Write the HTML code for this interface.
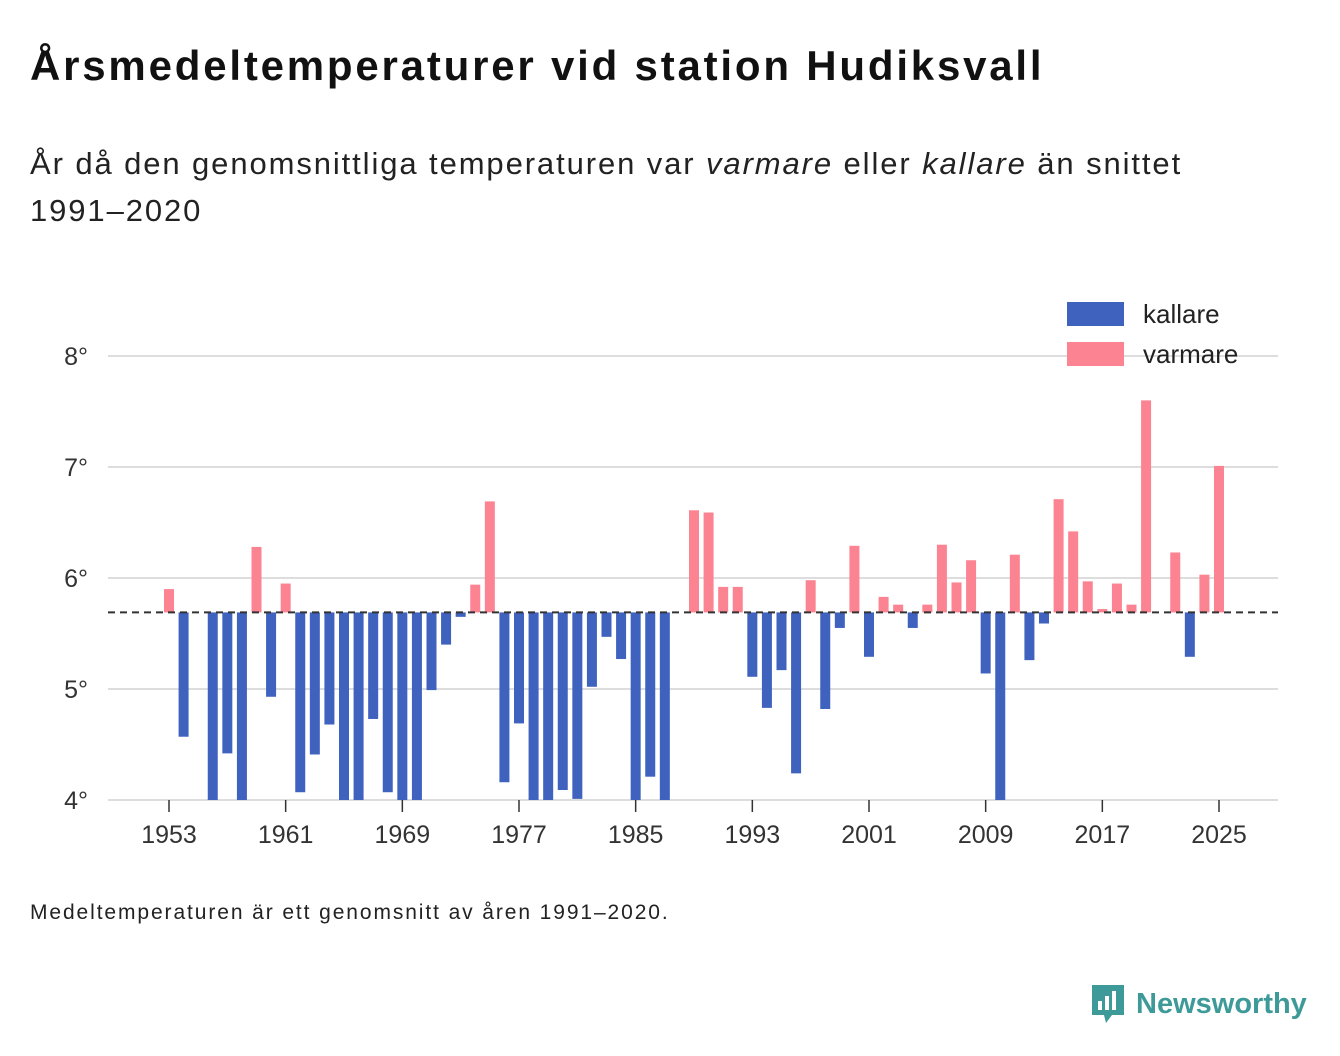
<!DOCTYPE html>
<html><head><meta charset="utf-8"><style>
body{margin:0;width:1340px;height:1056px;background:#fff;font-family:"Liberation Sans",sans-serif;color:#111;position:relative;overflow:hidden}
#title{position:absolute;left:30px;top:42px;font-size:42px;letter-spacing:2.8px;font-weight:bold;margin:0;white-space:nowrap}
#sub{position:absolute;left:30px;top:140px;font-size:31px;letter-spacing:1.9px;line-height:47px;color:#222;width:1200px}
#foot{position:absolute;left:30px;top:901px;font-size:21px;letter-spacing:1.9px;color:#222;white-space:nowrap}
#logo{position:absolute;left:1090px;top:983px;font-size:29px;font-weight:bold;color:#3d9a98;display:flex;align-items:center;gap:10px}
svg{position:absolute;left:0;top:0}
</style></head><body>
<h1 id="title">Årsmedeltemperaturer vid station Hudiksvall</h1>
<div id="sub">År då den genomsnittliga temperaturen var <i>varmare</i> eller <i>kallare</i> än snittet<br>1991–2020</div>
<svg id="chart" width="1340" height="1056"></svg>
<div id="foot">Medeltemperaturen är ett genomsnitt av åren 1991–2020.</div>
<div id="logo"><svg style="position:static" width="36" height="42" viewBox="0 0 36 42"><path d="M2 2h32v30H22l-6 8-2-8H2z" fill="#3d9a98"/><rect x="8" y="18" width="4" height="9" fill="#fff"/><rect x="15" y="13" width="4" height="14" fill="#fff"/><rect x="22" y="8" width="4" height="19" fill="#fff"/></svg><span>Newsworthy</span></div>
<script>
const years=[];for(let y=1953;y<=2025;y++)years.push(y);
const temps=[5.90,4.57,null,3.9,4.42,3.9,6.28,4.93,5.95,4.07,4.41,4.68,3.9,3.9,4.73,4.07,3.9,3.9,4.99,5.40,5.65,5.94,6.69,4.16,4.69,3.9,3.9,4.09,4.01,5.02,5.47,5.27,3.9,4.21,3.9,null,6.61,6.59,5.92,5.92,5.11,4.83,5.17,4.24,5.98,4.82,5.55,6.29,5.29,5.83,5.76,5.55,5.76,6.30,5.96,6.16,5.14,3.9,6.21,5.26,5.59,6.71,6.42,5.97,5.72,5.95,5.76,7.60,null,6.23,5.29,6.03,7.01];
const baseline=5.69;
const yTicks=[4,5,6,7,8];
const xTicks=[1953,1961,1969,1977,1985,1993,2001,2009,2017,2025];
const svg=document.getElementById('chart');const NS='http://www.w3.org/2000/svg';
const yS=v=>800-(v-4)*111, xS=y=>169+(y-1953)*(1050/72);
function mk(t,a,p){const e=document.createElementNS(NS,t);for(const k in a)e.setAttribute(k,a[k]);(p||svg).appendChild(e);return e;}
yTicks.forEach(v=>{
 const l=mk('line',{x1:108,x2:1278,y1:yS(v),y2:yS(v),stroke:'#ddd','stroke-width':2});
 
 
 const t=mk('text',{x:88,y:yS(v)+9,'text-anchor':'end','font-size':25,fill:'#333','font-family':'Liberation Sans'});t.textContent=v+'°';
 
 
});
xTicks.forEach(y=>{
 const l=mk('line',{x1:xS(y),x2:xS(y),y1:800,y2:812,stroke:'#333','stroke-width':1.5});
 
 
 const t=mk('text',{x:xS(y),y:843,'text-anchor':'middle','font-size':25,fill:'#333','font-family':'Liberation Sans'});t.textContent=y;
 
 
});
years.forEach((y,i)=>{const v=temps[i];if(v==null)return;
 const vv=Math.max(v,4);const y1=yS(baseline),y2=yS(vv);
 const r=mk('rect',{x:xS(y)-5,y:Math.min(y1,y2),width:10,height:Math.abs(y1-y2),fill:v>baseline?'#fc8391':'#3f62bf'});
 
 
});
const b=mk('line',{x1:108,x2:1278,y1:yS(baseline),y2:yS(baseline),stroke:'#333','stroke-width':2,'stroke-dasharray':'7,5'});


[['kallare','#3f62bf',314],['varmare','#fc8391',354]].forEach(([n,c,y])=>{
 const r=mk('rect',{x:1067,y:y-12,width:57,height:24,fill:c});
 
 
 const t=mk('text',{x:1143,y:y+9,'font-size':26,fill:'#222','font-family':'Liberation Sans'});t.textContent=n;
 
 
});
</script>
</body></html>
